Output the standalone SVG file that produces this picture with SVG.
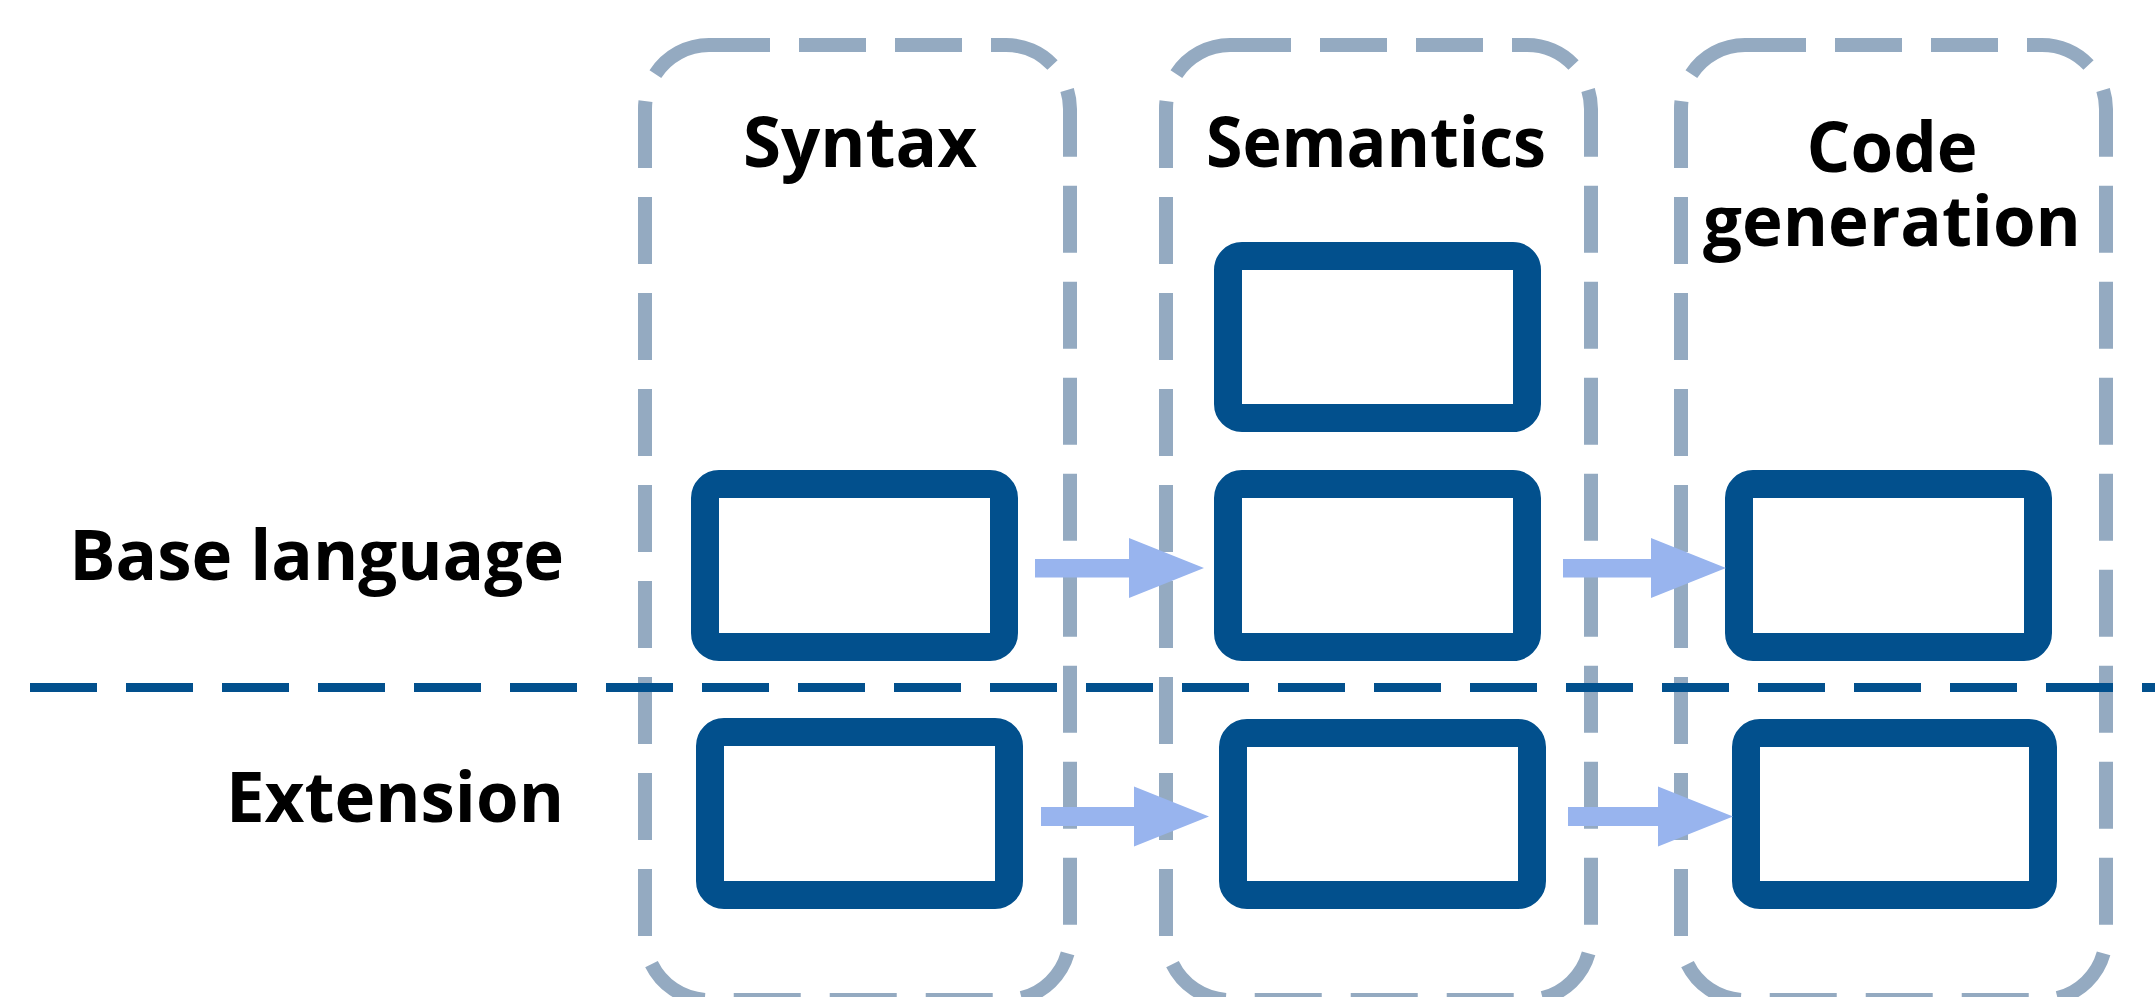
<svg xmlns="http://www.w3.org/2000/svg" width="2155" height="997" viewBox="0 0 2155 997">
<style>
.lane{fill:none;stroke:#94AAC1;stroke-width:14;stroke-dasharray:67 29;stroke-dashoffset:6}
.box{fill:#FFFFFF;stroke:#02508D;stroke-width:28}
.div{stroke:#02508D;stroke-width:9;stroke-dasharray:67 29}
.arrow{fill:#98B4EE}
.lbl{font-family:"Open Sans","Noto Sans","Liberation Sans",sans-serif;font-weight:700;font-size:69px;fill:#000000}
</style>
<rect width="2155" height="997" fill="#FFFFFF"/>
<g id="lane-syntax">
<rect class="lane" x="645" y="45" width="425" height="955" rx="64"/>
<text class="lbl" x="860" y="167" text-anchor="middle">Syntax</text>
</g>
<g id="lane-semantics">
<rect class="lane" x="1166" y="45" width="425" height="955" rx="64"/>
<text class="lbl" x="1376" y="167" text-anchor="middle" textLength="340" lengthAdjust="spacingAndGlyphs">Semantics</text>
</g>
<g id="lane-codegen">
<rect class="lane" x="1681" y="45" width="425" height="955" rx="64"/>
<text class="lbl" x="1892" y="172" text-anchor="middle">Code</text>
<text class="lbl" x="1892" y="246" text-anchor="middle">generation</text>
</g>
<g id="divider">
<line class="div" x1="30" y1="687.5" x2="2160" y2="687.5"/>
</g>
<g id="row-labels">
<text class="lbl" x="564" y="580" text-anchor="end">Base language</text>
<text class="lbl" x="564" y="822" text-anchor="end">Extension</text>
</g>
<g id="syntax-base"><rect class="box" x="705" y="484" width="299" height="163" rx="14"/></g>
<g id="syntax-ext"><rect class="box" x="710" y="732" width="299" height="163" rx="14"/></g>
<g id="semantics-top"><rect class="box" x="1228" y="256" width="299" height="162" rx="14"/></g>
<g id="semantics-base"><rect class="box" x="1228" y="484" width="299" height="163" rx="14"/></g>
<g id="semantics-ext"><rect class="box" x="1233" y="733" width="299" height="162" rx="14"/></g>
<g id="codegen-base"><rect class="box" x="1739" y="484" width="299" height="163" rx="14"/></g>
<g id="codegen-ext"><rect class="box" x="1746" y="733" width="297" height="162" rx="14"/></g>
<g id="connectors">
<polygon class="arrow" points="1035,559 1129,559 1129,538 1204,568 1129,598 1129,577.5 1035,577.5"/>
<polygon class="arrow" points="1041,807 1134,807 1134,786.5 1209,816.5 1134,846.5 1134,826 1041,826"/>
<polygon class="arrow" points="1563,559 1651,559 1651,538 1726,568 1651,598 1651,577.5 1563,577.5"/>
<polygon class="arrow" points="1568,807 1658,807 1658,786.5 1733,816.5 1658,846.5 1658,826 1568,826"/>
</g>
</svg>
